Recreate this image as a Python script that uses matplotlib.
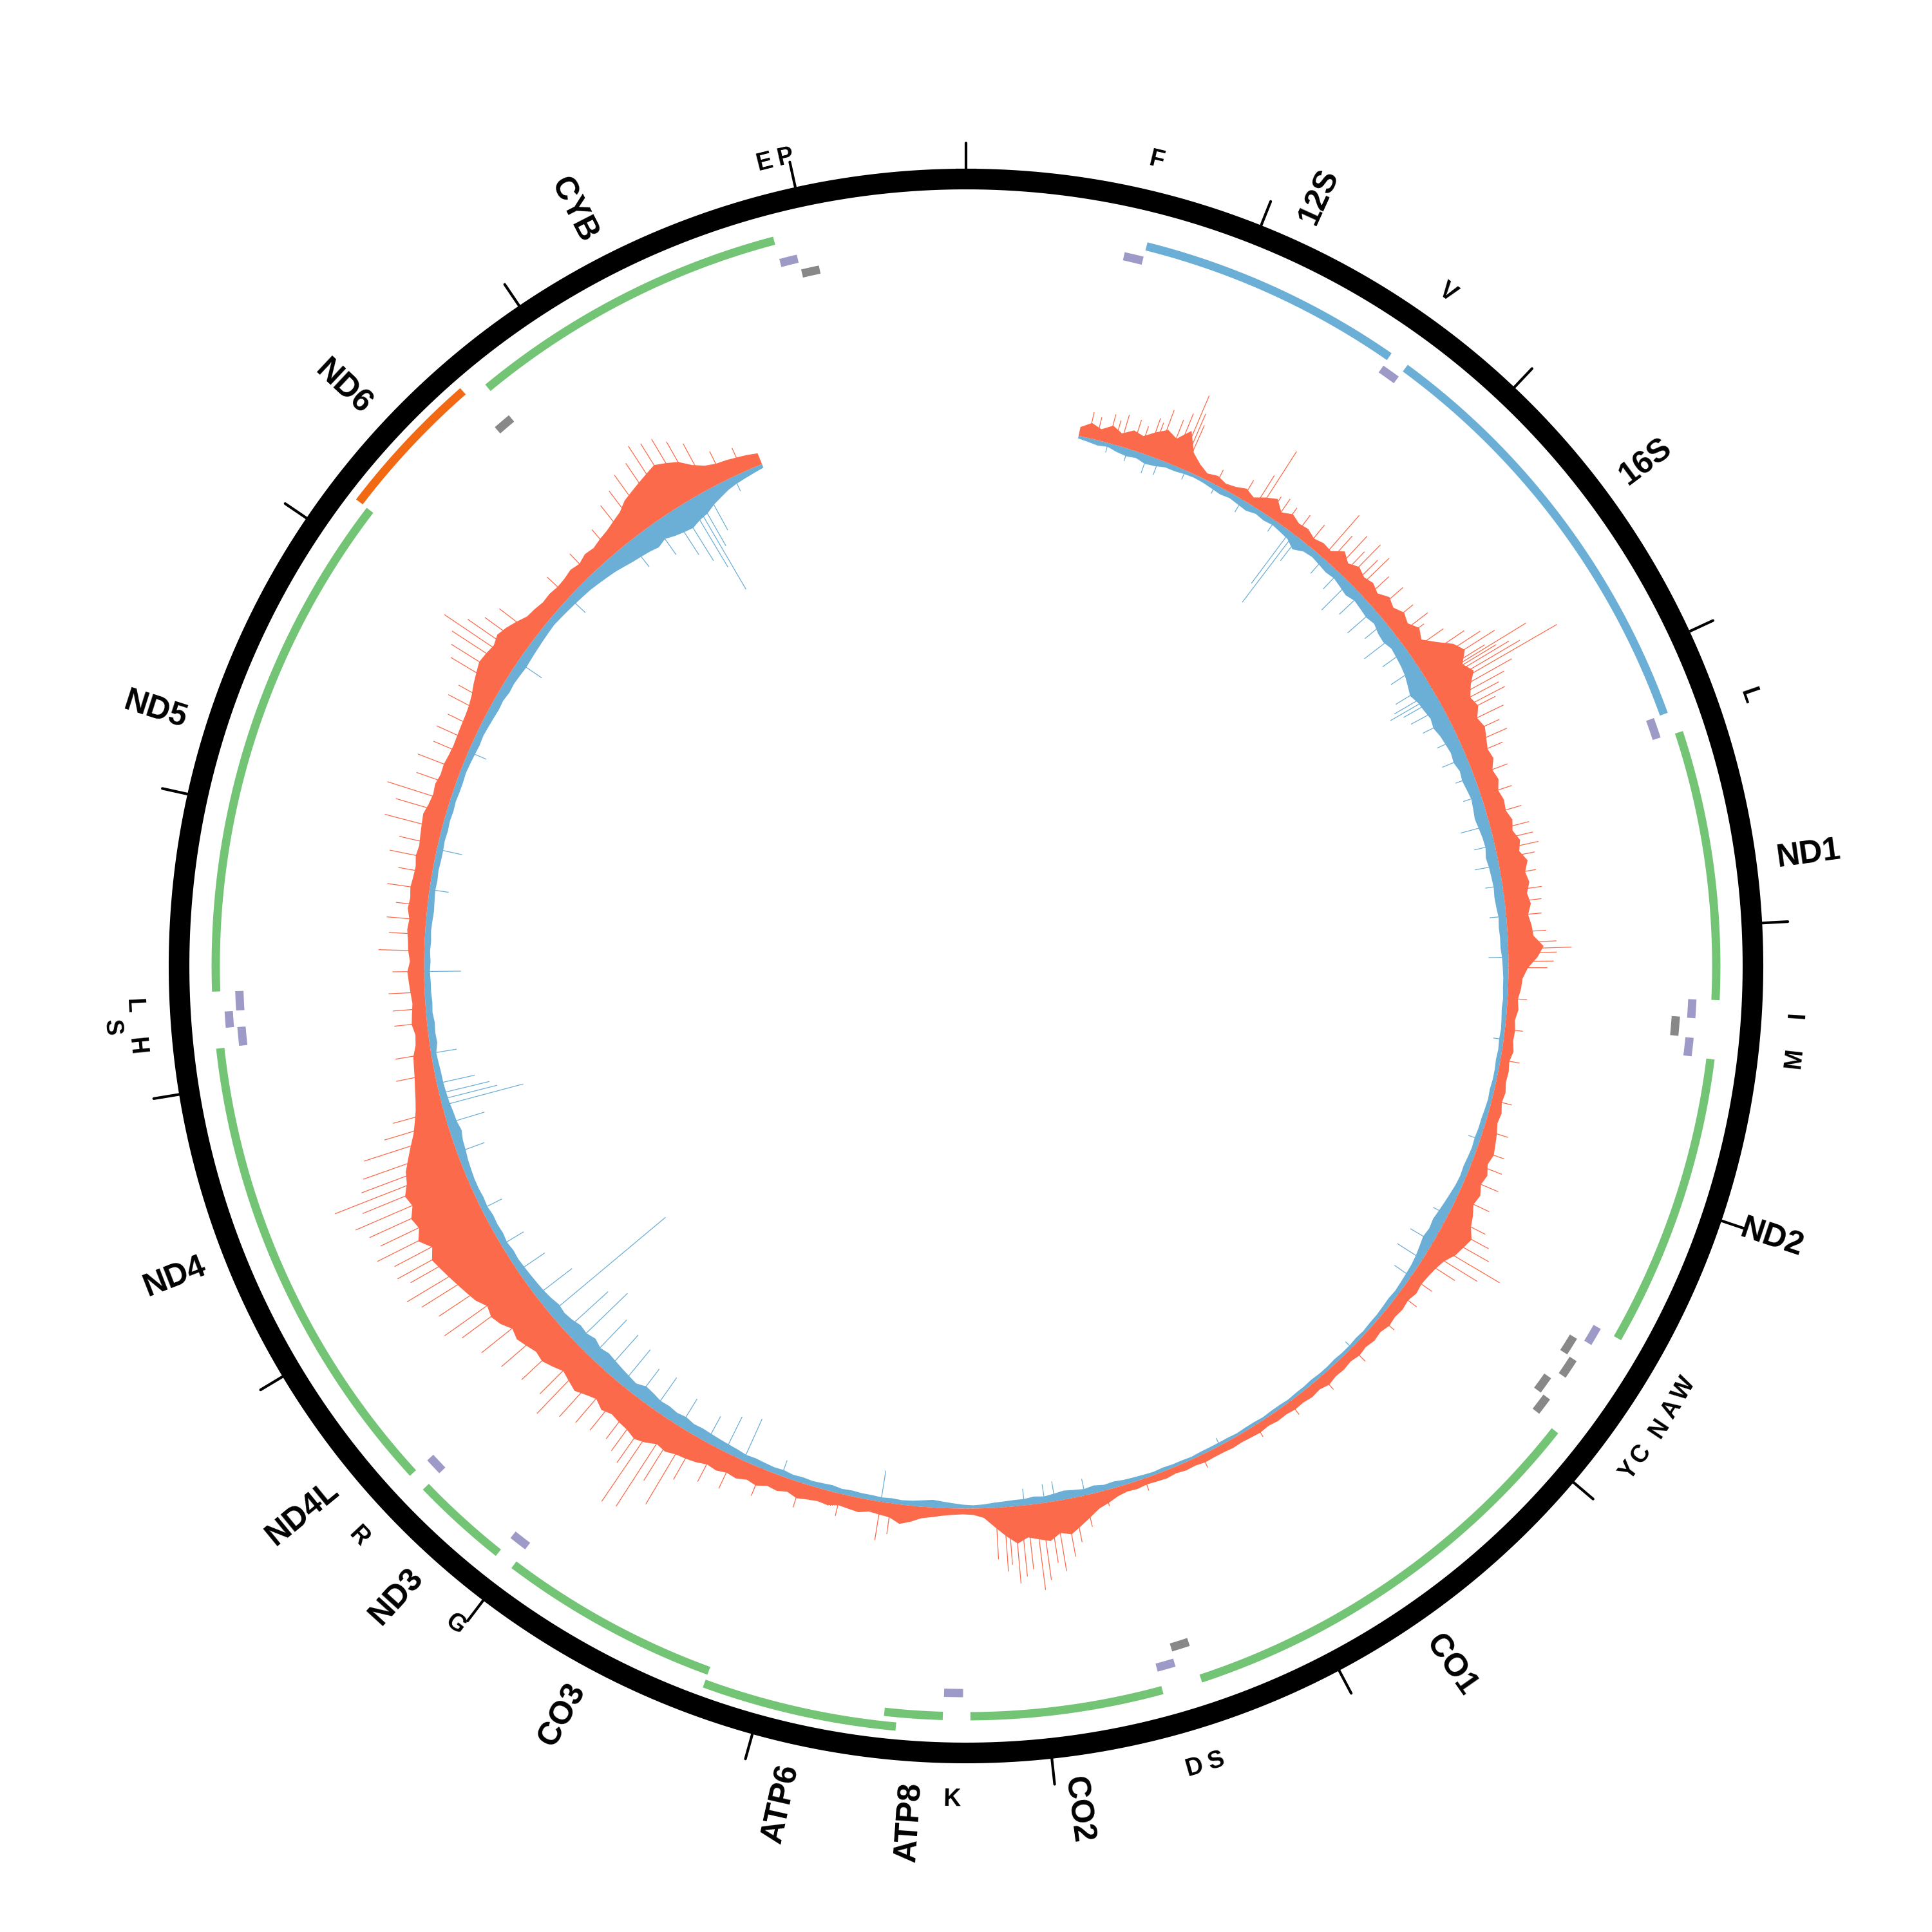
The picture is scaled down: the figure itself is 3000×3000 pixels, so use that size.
import numpy as np
import matplotlib.pyplot as plt

plt.rcParams['font.family'] = ['Liberation Sans', 'DejaVu Sans']

GENOME_LEN = 16569

# mitochondrial features
gene_names = ['F', '12S', 'V', '16S', 'L', 'ND1', 'I', 'Q', 'M', 'ND2', 'W', 'A', 'N', 'C', 'Y',
              'CO1', 'S', 'D', 'CO2', 'K', 'ATP8', 'ATP6', 'CO3', 'G', 'ND3', 'R', 'ND4L', 'ND4',
              'H', 'S', 'L', 'ND5', 'ND6', 'E', 'CYB', 'T', 'P']
gene_labels = ['F', '12S', 'V', '16S', 'L', 'ND1', 'I', '', 'M', 'ND2', 'W', 'A', 'N', 'C', 'Y',
               'CO1', 'S', 'D', 'CO2', 'K', 'ATP8', 'ATP6', 'CO3', 'G', 'ND3', 'R', 'ND4L', 'ND4',
               'H', 'S', 'L', 'ND5', 'ND6', '', 'CYB', 'E', 'P']
gene_starts = [577, 648, 1602, 1671, 3230, 3307, 4263, 4329, 4402, 4470, 5512, 5587, 5657, 5761, 5826,
               5904, 7446, 7518, 7586, 8295, 8366, 8527, 9207, 9991, 10059, 10405, 10470, 10760,
               12138, 12207, 12266, 12337, 14149, 14674, 14747, 15888, 15956]
gene_ends = [647, 1601, 1670, 3229, 3304, 4262, 4331, 4400, 4469, 5511, 5579, 5655, 5729, 5826, 5891,
             7445, 7514, 7585, 8269, 8364, 8572, 9207, 9990, 10058, 10404, 10469, 10766, 12137,
             12206, 12265, 12336, 14148, 14673, 14742, 15887, 15953, 16023]
gene_types = ['tRNA', 'rRNA', 'tRNA', 'rRNA', 'tRNA', 'CDS', 'tRNA', 'tRNA', 'tRNA', 'CDS', 'tRNA',
              'tRNA', 'tRNA', 'tRNA', 'tRNA', 'CDS', 'tRNA', 'tRNA', 'CDS', 'tRNA', 'CDS', 'CDS', 'CDS',
              'tRNA', 'CDS', 'tRNA', 'CDS', 'CDS', 'tRNA', 'tRNA', 'tRNA', 'CDS', 'CDS', 'tRNA', 'CDS',
              'tRNA', 'tRNA']
gene_strands = ['+', '+', '+', '+', '+', '+', '+', '-', '+', '+', '+', '-', '-', '-', '-',
                '+', '-', '+', '+', '+', '+', '+', '+', '+', '+', '+', '+', '+',
                '+', '+', '+', '+', '-', '-', '+', '+', '-']

# coverage, 50 bp bins from 550 to 15550
cov_start, cov_step = 550, 50
fwd_cov = [14, 24, 18, 28, 20, 30, 26, 38, 48, 40,
           60, 30, 18, 10, 14, 9, 12, 18, 12, 22, 30, 16, 24, 18, 20, 14, 18, 16, 30, 20,
           28, 22, 26, 20, 30, 24, 32, 26, 36, 28, 45, 65, 75, 60, 70, 55, 45, 50, 40, 45,
           40, 35, 38, 30, 34, 28, 32, 30, 36, 32, 40, 35, 45, 38, 42, 36, 40, 34, 38, 40,
           55, 45, 30, 22, 20, 16, 18, 14, 16, 15, 18, 14, 16, 15, 18, 16, 20, 18, 22, 25,
           28, 24, 30, 26, 32, 28, 35, 40, 50, 45, 40, 30, 25, 22, 20, 22, 18, 20, 18, 20,
           16, 18, 15, 17, 14, 16, 15, 18, 14, 16, 14, 15, 13, 14, 12, 14, 13, 12, 13, 12,
           12, 13, 11, 12, 10, 12, 11, 10, 12, 11, 14, 20, 25, 35, 45, 55, 50, 60, 55, 50,
           58, 45, 30, 15, 10, 9, 10, 12, 15, 18, 25, 30, 22, 20, 18, 22, 20, 18, 22, 20,
           22, 25, 20, 24, 22, 28, 25, 30, 28, 32, 30, 35, 38, 40, 45, 42, 50, 55, 50, 48,
           45, 50, 42, 48, 55, 50, 45, 52, 58, 55, 60, 65, 60, 70, 75, 70, 80, 85, 90, 95,
           100, 105, 95, 110, 100, 105, 95, 100, 90, 85, 75, 65, 55, 48, 42, 38, 35, 32, 30, 28,
           22, 20, 24, 22, 20, 22, 24, 26, 22, 25, 26, 28, 26, 30, 28, 30, 28, 27, 30, 28,
           30, 32, 34, 30, 28, 30, 27, 28, 26, 25, 26, 27, 28, 30, 34, 40, 45, 50, 48, 45,
           50, 45, 38, 30, 28, 25, 26, 24, 25, 28, 25, 30, 28, 32, 35, 40, 45, 55, 60, 65,
           70, 75, 68, 60, 45, 35, 30, 28, 25, 22, 18]
rev_cov = [4, 6, 8, 6, 10, 12, 10, 14, 12, 8,
           8, 6, 5, 6, 8, 10, 8, 10, 12, 8, 10, 8, 10, 12, 20, 12, 10, 12, 14, 12,
           15, 18, 14, 16, 18, 15, 20, 22, 18, 20, 22, 25, 30, 35, 30, 28, 25, 28, 24, 22,
           20, 22, 18, 20, 18, 16, 18, 20, 18, 16, 15, 18, 16, 15, 14, 15, 14, 12, 13, 12,
           12, 10, 9, 8, 8, 7, 8, 7, 6, 7, 6, 7, 6, 6, 7, 6, 7, 8, 8, 9,
           8, 9, 10, 9, 10, 12, 14, 16, 18, 16, 18, 15, 12, 10, 9, 8, 7, 8, 7, 6,
           6, 5, 6, 5, 5, 6, 5, 5, 6, 5, 5, 4, 5, 5, 4, 5, 5, 4, 5, 5,
           5, 5, 4, 5, 5, 6, 5, 6, 7, 8, 10, 9, 12, 10, 12, 14, 12, 10, 12, 10,
           10, 9, 8, 6, 5, 6, 8, 10, 12, 10, 8, 7, 8, 7, 8, 8, 9, 8, 10, 9,
           8, 9, 8, 10, 9, 10, 11, 10, 12, 13, 14, 15, 16, 15, 18, 16, 18, 17, 20, 22,
           16, 18, 20, 22, 24, 21, 26, 22, 24, 20, 18, 20, 17, 15, 14, 13, 12, 11, 12, 10,
           12, 11, 12, 10, 11, 10, 10, 11, 12, 14, 15, 18, 15, 14, 12, 11, 10, 10, 9, 8,
           12, 11, 12, 10, 11, 10, 10, 9, 10, 9, 10, 9, 10, 11, 10, 9, 10, 9, 10, 10,
           9, 10, 9, 10, 9, 10, 10, 9, 10, 11, 12, 11, 12, 13, 14, 13, 15, 14, 15, 16,
           15, 14, 13, 12, 11, 12, 13, 14, 15, 16, 18, 20, 22, 25, 28, 30, 32, 35, 30, 35,
           38, 40, 35, 32, 25, 20, 15, 12, 10, 8, 6]

# single positions with high coverage
fwd_peak_pos = [600, 640, 700, 730, 760, 820, 860, 900, 920, 945, 1000, 1030, 1063, 1080, 1095,
                1262, 1410, 1480, 1506, 1560, 1600, 1650, 1720, 1800, 1892, 1930, 1980, 2020, 2050,
                2090, 2120, 2180, 2260, 2350, 2420, 2450, 2520, 2580, 2620, 2650, 2680, 2693, 2705,
                2720, 2740, 2760, 2790, 2820, 2850, 2880, 2900, 2950, 3000, 3050, 3100, 3200, 3300,
                3400, 3480, 3530, 3577, 3620, 3700, 3780, 3835, 3900, 3980, 4030, 4060, 4080, 4120,
                4150, 4300, 4450, 4600, 4800, 4950, 5050, 5120, 5200, 5300, 5400, 5450, 5500, 5555,
                5600, 5650, 5750, 5850, 6000, 6200, 6400, 6600, 6800, 7100, 7400, 7600, 7700, 7760,
                7800, 7850, 7880, 7920, 7950, 7990, 8020, 8050, 8080, 8100, 8140, 8650, 8700, 8900,
                9100, 9300, 9450, 9550, 9650, 9700, 9760, 9800, 9860, 9900, 9950, 10000, 10080,
                10150, 10220, 10300, 10350, 10450, 10550, 10650, 10750, 10800, 10880, 10950, 11000,
                11060, 11100, 11150, 11200, 11250, 11300, 11350, 11400, 11440, 11480, 11530, 11600,
                11660, 11720, 11900, 12000, 12150, 12300, 12500, 12650, 12800, 12950, 13100, 13180,
                13240, 13400, 13550, 13700, 13850, 13900, 13950, 13990, 14030, 14080, 14150, 14400,
                14550, 14700, 14800, 14870, 14930, 15000, 15050, 15100, 15150, 15200, 15260, 15350,
                15450, 12220, 12400, 12580, 12720, 12880, 13020, 13320, 13480, 13620, 13760]
fwd_peak_val = [40, 35, 45, 38, 50, 48, 42, 60, 55, 79, 70, 85, 120, 92, 75,
                25, 34, 57, 107, 35, 40, 35, 38, 40, 86, 55, 70, 50, 75,
                55, 70, 50, 55, 50, 60, 45, 65, 90, 110, 130, 105, 177, 120,
                140, 155, 217, 130, 110, 95, 100, 80, 85, 70, 75, 60, 55, 50,
                55, 60, 62, 67, 58, 55, 60, 57, 55, 60, 75, 98, 75, 70,
                60, 30, 28, 30, 32, 40, 45, 50, 55, 55, 65, 80, 90, 121,
                90, 60, 40, 35, 30, 30, 28, 25, 22, 22, 20, 25, 50, 70,
                90, 110, 95, 120, 134, 100, 110, 120, 90, 100, 80, 48, 60, 35,
                40, 45, 55, 60, 75, 130, 100, 157, 163, 100, 90, 80, 85,
                90, 100, 120, 95, 100, 110, 120, 130, 150, 140, 155, 170,
                150, 165, 160, 180, 165, 175, 190, 170, 210, 160, 150, 140,
                100, 80, 60, 55, 50, 55, 70, 60, 65, 70, 90, 80,
                100, 70, 60, 65, 90, 100, 110, 134, 100, 80, 70, 45,
                45, 50, 70, 80, 95, 100, 120, 113, 110, 95, 80, 50,
                40, 50, 48, 55, 48, 52, 60, 62, 55, 52, 58]
rev_peak_pos = [700, 800, 900, 960, 1100, 1262, 1410, 1600, 1690, 1713, 1740, 1900, 2000, 2070,
                2150, 2250, 2330, 2410, 2500, 2600, 2700, 2740, 2760, 2780, 2830, 2900, 3000, 3100,
                3200, 3300, 3450, 3550, 3650, 3750, 3900, 4100, 4500, 5000, 5400, 5550, 5650, 5750,
                6200, 7000, 7700, 7850, 7900, 8000, 8700, 9200, 9400, 9500, 9600, 9750, 9900, 10000,
                10100, 10200, 10300, 10400, 10480, 10590, 10700, 10850, 11000, 11200, 11500, 11650,
                11740, 11770, 11800, 11850, 12000, 12400, 12800, 13000, 13500, 14000, 14400, 14800,
                14950, 15050, 15100, 15150, 15175, 15200, 15250, 15400]
rev_peak_val = [15, 20, 29, 25, 15, 15, 22, 20, 100, 132, 45, 30, 35, 60,
                45, 55, 40, 60, 45, 50, 60, 70, 80, 60, 55, 45, 35, 40,
                30, 28, 46, 32, 37, 26, 25, 30, 15, 18, 25, 40, 45, 30,
                12, 12, 25, 30, 28, 25, 48, 25, 70, 60, 45, 50, 60, 55,
                70, 75, 80, 110, 90, 233, 70, 50, 40, 35, 45, 60,
                130, 90, 80, 60, 40, 57, 30, 40, 30, 45, 35, 50,
                60, 80, 100, 120, 164, 90, 70, 25]

RED = '#fb6a4a'
BLUE = '#6baed6'
CDS_COLOR = '#74c476'
RRNA_COLOR = '#6baed6'
TRNA_FWD = '#9e9ac8'
TRNA_REV = '#888888'
CDS_REV = '#f16913'

BASE_R = 842


def to_theta(pos):
    return 2 * np.pi * np.asarray(pos, dtype=float) / GENOME_LEN


fig = plt.figure(figsize=(10, 10), dpi=300)
ax = fig.add_axes([0, 0, 1, 1], projection='polar')
ax.set_theta_zero_location('N')
ax.set_theta_direction(-1)
ax.set_ylim(0, 1500)
ax.set_axis_off()

# coverage
cov_pos = cov_start + cov_step * np.arange(len(fwd_cov))
th = to_theta(cov_pos)
ax.fill_between(th, BASE_R - np.array(rev_cov), BASE_R, color=BLUE, lw=0)
for p, d in zip(rev_peak_pos, rev_peak_val):
    ax.plot([to_theta(p)] * 2, [BASE_R, BASE_R - d], color=BLUE, lw=0.3)
ax.fill_between(th, BASE_R, BASE_R + np.array(fwd_cov), color=RED, lw=0)
for p, d in zip(fwd_peak_pos, fwd_peak_val):
    ax.plot([to_theta(p)] * 2, [BASE_R, BASE_R + d], color=RED, lw=0.3)

# outer ring and ticks
ring = np.linspace(0, 2 * np.pi, 1000)
ax.plot(ring, np.full_like(ring, 1222), color='black', lw=7.7)
for k in range(0, GENOME_LEN, 1000):
    t = to_theta(k)
    ax.plot([t, t], [1238, 1278], color='black', lw=1.0, solid_capstyle='round')

# feature tracks with simple overlap bumping
last_end = {}
levels = []
for i in range(len(gene_names)):
    track = (gene_types[i], gene_strands[i])
    tol = 5 if gene_types[i] == 'tRNA' else -10
    lvl = 0
    prev = last_end.get((track, 0))
    if prev is not None and gene_starts[i] - prev < tol:
        lvl = 1
    last_end[(track, lvl)] = gene_ends[i]
    levels.append(lvl)

for i, name in enumerate(gene_names):
    s, e = gene_starts[i], gene_ends[i]
    t = to_theta(np.linspace(s, e, 60))
    if gene_types[i] == 'tRNA':
        base = 1129 if gene_strands[i] == '+' else 1105
        r = base + 18 * levels[i]
        col = TRNA_FWD if gene_strands[i] == '+' else TRNA_REV
    elif gene_types[i] == 'rRNA':
        r, col = 1152, RRNA_COLOR
    else:
        if gene_strands[i] == '-':
            r, col = 1186, CDS_REV
        else:
            r, col = 1165 + 21 * levels[i], CDS_COLOR
    ax.plot(t, np.full_like(t, r), color=col, lw=3.1, solid_capstyle='butt')

    lab = gene_labels[i]
    if not lab:
        continue
    mid = (s + e) / 2
    ang = 360.0 * mid / GENOME_LEN
    if gene_types[i] == 'tRNA':
        rot = -ang if (ang < 90 or ang > 270) else 180 - ang
        lr = 1290 + (36 if (levels[i] and gene_strands[i] == '+') else 0)
        ax.text(to_theta(mid), lr, lab, fontsize=9, fontweight='bold', rotation=rot,
                rotation_mode='anchor', ha='center', va='center_baseline')
    else:
        if ang <= 180:
            rot, ha = 90 - ang, 'left'
        else:
            rot, ha = 270 - ang, 'right'
        ax.text(to_theta(mid), 1270, lab, fontsize=12, fontweight='bold', rotation=rot,
                rotation_mode='anchor', ha=ha, va='center_baseline')

fig.savefig('out.png', dpi=300)
